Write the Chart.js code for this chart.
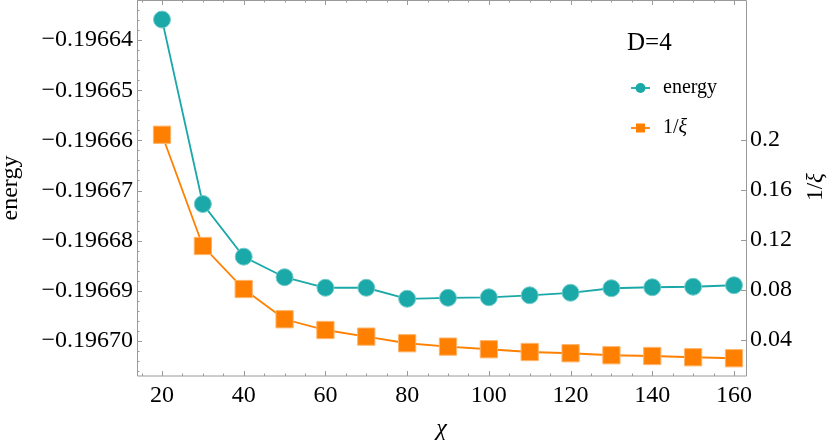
<!DOCTYPE html>
<html>
<head>
<meta charset="utf-8">
<script src="https://cdn.jsdelivr.net/npm/chart.js@4.4.1/dist/chart.umd.min.js"></script>
<style>
  html, body { margin: 0; padding: 0; background: #fff; }
  #wrap { width: 830px; height: 446px; }
</style>
</head>
<body>
<div id="wrap"><canvas id="myChart" width="830" height="446"></canvas></div>
<script>
// bond dimension chi
const chi = [20, 30, 40, 50, 60, 70, 80, 90, 100, 110, 120, 130, 140, 150, 160];

// energy per site (left axis)
const energy = [
  -0.1966359, -0.1966727, -0.1966832, -0.1966873, -0.1966894, -0.1966894, -0.1966916,
  -0.1966914, -0.1966913, -0.1966909, -0.1966904, -0.1966895, -0.1966893, -0.1966892,
  -0.1966889,
];

// inverse correlation length (right axis)
const invXi = [
  0.2042, 0.1152, 0.0808, 0.0566, 0.048, 0.0427, 0.0374, 0.0347, 0.0326, 0.0304, 0.0294,
  0.0278, 0.0272, 0.0262, 0.0254,
];

const chiTicks = [20, 40, 60, 80, 100, 120, 140, 160];
const energyTicks = [-0.19664, -0.19665, -0.19666, -0.19667, -0.19668, -0.19669, -0.1967];
const xiTicks = [0.04, 0.08, 0.12, 0.16, 0.2];

const titleText = "D=4";
const energyLabel = "energy";
const xiLabel = "1/\u03BE";
const chiLabel = "\u03C7";

const TEAL = "#1ba8a8";
const ORANGE = "#ff8000";
const FRAME = "#9a9a9a";
const SERIF = "'Liberation Serif', 'DejaVu Serif', serif";

function toPoints(ys) {
  return chi.map(function (c, i) {
    return { x: c, y: ys[i] };
  });
}

// writes "1/" upright and the xi in italic
function drawInvXi(ctx, x, y, size) {
  ctx.font = size + "px " + SERIF;
  ctx.fillText("1/", x, y);
  const w = ctx.measureText("1/").width;
  ctx.font = "italic " + size + "px " + SERIF;
  ctx.fillText("\u03BE", x + w, y);
}

// frame with inward ticks, Mathematica style
const framePlugin = {
  id: "frame",
  beforeDatasetsDraw(chart) {
    const ctx = chart.ctx;
    const a = chart.chartArea;
    const sx = chart.scales.x;
    const sl = chart.scales.yE;
    const sr = chart.scales.yX;
    ctx.save();
    ctx.strokeStyle = FRAME;
    ctx.lineWidth = 1;
    ctx.beginPath();
    ctx.rect(Math.round(a.left) + 0.5, Math.round(a.top) + 0.5, Math.round(a.right - a.left), Math.round(a.bottom - a.top) - 0.5);
    ctx.stroke();

    ctx.beginPath();
    // bottom + top
    for (let v = Math.ceil(sx.min / 5) * 5; v <= sx.max; v += 5) {
      const px = Math.round(sx.getPixelForValue(v)) + 0.5;
      const len = v % 20 === 0 ? 5 : 2.5;
      ctx.moveTo(px, a.bottom);
      ctx.lineTo(px, a.bottom - len);
      ctx.moveTo(px, a.top);
      ctx.lineTo(px, a.top + len);
    }
    // left
    for (let k = Math.ceil(sl.min / 2e-6); k * 2e-6 <= sl.max; k++) {
      const py = Math.round(sl.getPixelForValue(k * 2e-6)) + 0.5;
      const len = k % 5 === 0 ? 5 : 2.5;
      ctx.moveTo(a.left, py);
      ctx.lineTo(a.left + len, py);
    }
    // right
    xiTicks.forEach(function (v) {
      const py = Math.round(sr.getPixelForValue(v)) + 0.5;
      ctx.moveTo(a.right, py);
      ctx.lineTo(a.right - 5, py);
    });
    ctx.stroke();
    ctx.restore();
  },
  afterDraw(chart) {
    const ctx = chart.ctx;
    ctx.save();
    ctx.fillStyle = "#000";

    // plot label
    ctx.font = "25px " + SERIF;
    ctx.textBaseline = "alphabetic";
    ctx.textAlign = "left";
    ctx.fillText(titleText, 627, 50);

    // legend
    const rows = [
      { y: 88, color: TEAL, style: "circle", text: energyLabel },
      { y: 128, color: ORANGE, style: "rect", text: xiLabel },
    ];
    rows.forEach(function (r) {
      ctx.strokeStyle = r.color;
      ctx.fillStyle = r.color;
      ctx.lineWidth = 1.8;
      ctx.beginPath();
      ctx.moveTo(631, r.y);
      ctx.lineTo(650, r.y);
      ctx.stroke();
      ctx.beginPath();
      if (r.style === "circle") {
        ctx.arc(640.5, r.y, 5, 0, Math.PI * 2);
      } else {
        ctx.rect(636, r.y - 4.5, 9, 9);
      }
      ctx.fill();
      ctx.fillStyle = "#000";
      ctx.textBaseline = "middle";
      if (r.style === "rect") {
        drawInvXi(ctx, 663, r.y, 20);
      } else {
        ctx.font = "20px " + SERIF;
        ctx.fillText(r.text, 663, r.y);
      }
    });

    // right axis title, reading bottom to top
    ctx.translate(822, 187);
    ctx.rotate(-Math.PI / 2);
    ctx.textAlign = "left";
    ctx.textBaseline = "alphabetic";
    ctx.font = "23px " + SERIF;
    const w1 = ctx.measureText("1/").width;
    ctx.font = "italic 23px " + SERIF;
    const w2 = ctx.measureText("\u03BE").width;
    drawInvXi(ctx, -(w1 + w2) / 2, 0, 23);
    ctx.restore();
  },
};

const tickFont = { family: SERIF, size: 24 };

const config = {
  type: "line",
  data: {
    datasets: [
      {
        label: energyLabel,
        data: toPoints(energy),
        yAxisID: "yE",
        borderColor: TEAL,
        borderWidth: 1.8,
        pointStyle: "circle",
        pointRadius: 8.5,
        pointHoverRadius: 8.5,
        pointBackgroundColor: TEAL,
        pointBorderColor: "#74cccc",
        pointBorderWidth: 1,
      },
      {
        label: xiLabel,
        data: toPoints(invXi),
        yAxisID: "yX",
        borderColor: ORANGE,
        borderWidth: 1.8,
        pointStyle: "rect",
        pointRadius: 12.2,
        pointHoverRadius: 12.2,
        pointBackgroundColor: ORANGE,
        pointBorderColor: "#ffb46a",
        pointBorderWidth: 1,
      },
    ],
  },
  options: {
    responsive: false,
    animation: false,
    devicePixelRatio: 1,
    layout: { autoPadding: false, padding: 0 },
    plugins: { legend: { display: false }, tooltip: { enabled: false } },
    scales: {
      x: {
        type: "linear",
        position: "bottom",
        min: 13.88,
        max: 162.94,
        afterBuildTicks: function (s) {
          s.ticks = chiTicks.map(function (v) { return { value: v }; });
        },
        afterFit: function (s) {
          s.height = 70;
          s.paddingLeft = 0;
          s.paddingRight = 0;
        },
        grid: { display: false, drawTicks: false },
        border: { display: false },
        ticks: { font: tickFont, color: "#000", padding: 5, maxRotation: 0, autoSkip: false },
        title: {
          display: true,
          text: chiLabel,
          color: "#000",
          font: { family: SERIF, size: 24, style: "italic", lineHeight: 1 },
          padding: { top: 0, bottom: 5 },
        },
      },
      yE: {
        type: "linear",
        position: "left",
        min: -0.196707,
        max: -0.196632,
        afterBuildTicks: function (s) {
          s.ticks = energyTicks.map(function (v) { return { value: v }; });
        },
        afterFit: function (s) {
          s.width = 137;
          s.paddingTop = 0;
          s.paddingBottom = 0;
        },
        grid: { display: false, drawTicks: false },
        border: { display: false },
        ticks: {
          font: tickFont,
          color: "#000",
          padding: 4,
          autoSkip: false,
          callback: function (v) {
            return (v < 0 ? "\u2212" : "") + Math.abs(v).toFixed(5);
          },
        },
        title: {
          display: true,
          text: energyLabel,
          color: "#000",
          font: { family: SERIF, size: 24, lineHeight: 0.9 },
          padding: { top: 0, bottom: 0 },
        },
      },
      yX: {
        type: "linear",
        position: "right",
        min: 0.0112,
        max: 0.312,
        afterBuildTicks: function (s) {
          s.ticks = xiTicks.map(function (v) { return { value: v }; });
        },
        afterFit: function (s) {
          s.width = 84;
          s.paddingTop = 0;
          s.paddingBottom = 0;
        },
        grid: { display: false, drawTicks: false },
        border: { display: false },
        ticks: {
          font: tickFont,
          color: "#000",
          padding: 4,
          autoSkip: false,
          callback: function (v) {
            return String(parseFloat(v.toFixed(2)));
          },
        },
      },
    },
  },
  plugins: [framePlugin],
};

const ctx = document.getElementById("myChart").getContext("2d");
const myChart = new Chart(ctx, config);
</script>
</body>
</html>
